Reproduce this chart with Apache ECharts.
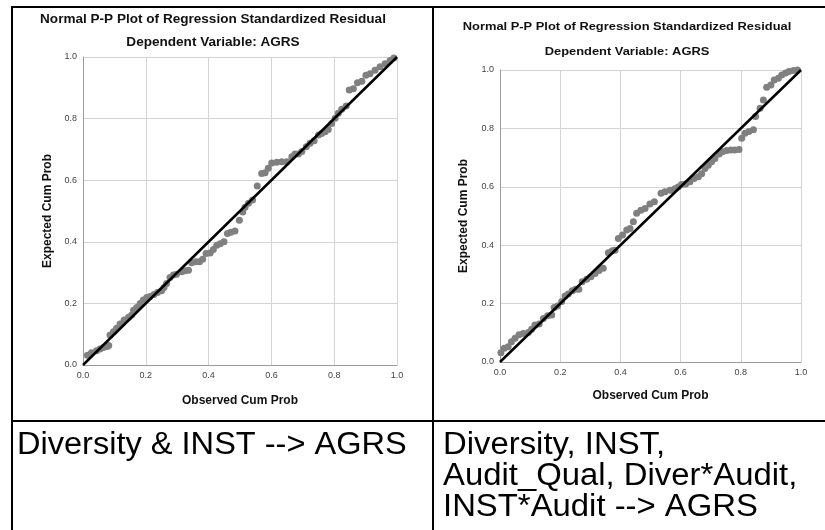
<!DOCTYPE html>
<html>
<head>
<meta charset="utf-8">
<script src="https://cdn.jsdelivr.net/npm/echarts@6/dist/echarts.min.js"></script>
<style>
  html, body { margin: 0; padding: 0; background: #fff; }
  #chart { width: 825px; height: 530px; }
</style>
</head>
<body>
<div id="chart"></div>
<script>
// left plot: Diversity & INST --> AGRS
var leftObs = [0.014, 0.027, 0.043, 0.054, 0.065, 0.077, 0.082, 0.086, 0.097, 0.107, 0.118, 0.131, 0.145, 0.155,
  0.161, 0.171, 0.182, 0.192, 0.203, 0.213, 0.226, 0.237, 0.250, 0.258, 0.266, 0.277, 0.288, 0.298, 0.314,
  0.325, 0.336, 0.346, 0.360, 0.371, 0.381, 0.392, 0.405, 0.415, 0.426, 0.437, 0.449, 0.460, 0.471, 0.484,
  0.498, 0.509, 0.516, 0.527, 0.540, 0.555, 0.569, 0.580, 0.590, 0.601, 0.617, 0.633, 0.649, 0.665, 0.675,
  0.686, 0.697, 0.711, 0.723, 0.736, 0.750, 0.760, 0.771, 0.781, 0.792, 0.803, 0.813, 0.824, 0.838, 0.848,
  0.861, 0.874, 0.888, 0.901, 0.914, 0.930, 0.946, 0.962, 0.978, 0.990];
var leftExp = [0.032, 0.040, 0.046, 0.052, 0.057, 0.060, 0.063, 0.097, 0.108, 0.119, 0.133, 0.146, 0.155, 0.162,
  0.178, 0.187, 0.200, 0.211, 0.219, 0.222, 0.229, 0.235, 0.241, 0.252, 0.265, 0.284, 0.292, 0.295, 0.303,
  0.306, 0.308, 0.332, 0.335, 0.335, 0.343, 0.362, 0.364, 0.375, 0.389, 0.394, 0.400, 0.427, 0.431, 0.435,
  0.470, 0.497, 0.512, 0.525, 0.536, 0.581, 0.622, 0.624, 0.639, 0.656, 0.658, 0.660, 0.660, 0.676, 0.685,
  0.685, 0.693, 0.709, 0.720, 0.728, 0.747, 0.752, 0.757, 0.765, 0.784, 0.801, 0.817, 0.830, 0.841, 0.893,
  0.897, 0.916, 0.921, 0.941, 0.946, 0.957, 0.968, 0.978, 0.989, 0.997];

// right plot: Diversity, INST, Audit_Qual, Diver*Audit, INST*Audit --> AGRS
var rightObs = [0.003, 0.014, 0.027, 0.038, 0.050, 0.063, 0.077, 0.094, 0.105, 0.116, 0.130, 0.144, 0.158, 0.172,
  0.180, 0.191, 0.205, 0.216, 0.227, 0.240, 0.251, 0.262, 0.273, 0.288, 0.302, 0.316, 0.329, 0.343, 0.360,
  0.373, 0.382, 0.393, 0.407, 0.421, 0.432, 0.443, 0.454, 0.468, 0.482, 0.498, 0.513, 0.535, 0.548, 0.565,
  0.581, 0.592, 0.603, 0.617, 0.631, 0.645, 0.659, 0.670, 0.681, 0.692, 0.703, 0.714, 0.728, 0.739, 0.753,
  0.767, 0.780, 0.794, 0.803, 0.814, 0.827, 0.842, 0.849, 0.864, 0.875, 0.886, 0.900, 0.911, 0.925, 0.936,
  0.949, 0.960, 0.975, 0.988];
var rightExp = [0.032, 0.047, 0.052, 0.069, 0.081, 0.093, 0.098, 0.101, 0.112, 0.127, 0.130, 0.149, 0.158, 0.161,
  0.187, 0.192, 0.207, 0.226, 0.233, 0.244, 0.249, 0.249, 0.275, 0.283, 0.292, 0.303, 0.313, 0.321, 0.374,
  0.381, 0.383, 0.423, 0.435, 0.452, 0.457, 0.480, 0.509, 0.520, 0.526, 0.541, 0.549, 0.578, 0.583, 0.588,
  0.593, 0.599, 0.608, 0.610, 0.617, 0.628, 0.634, 0.645, 0.663, 0.674, 0.686, 0.697, 0.712, 0.720, 0.724,
  0.726, 0.726, 0.728, 0.766, 0.783, 0.789, 0.795, 0.841, 0.869, 0.897, 0.941, 0.949, 0.966, 0.972, 0.983,
  0.990, 0.995, 0.998, 1.000];

var diagonal = [[0, 0], [1, 1]];
var titleMain = 'Normal P-P Plot of Regression Standardized Residual';
var titleSub = 'Dependent Variable: AGRS';
var xName = 'Observed Cum Prob';
var yName = 'Expected Cum Prob';
var leftCaption = ['Diversity & INST --> AGRS'];
var rightCaption = ['Diversity, INST,', 'Audit_Qual, Diver*Audit,', 'INST*Audit --> AGRS'];

function pairs(xs, ys) {
  return xs.map(function (x, i) { return [x, ys[i]]; });
}

function axis(idx, name, gap) {
  return {
    type: 'value', gridIndex: idx, min: 0, max: 1, interval: 0.2,
    name: name, nameLocation: 'middle', nameGap: gap,
    nameTextStyle: { fontFamily: 'Liberation Sans, Arial', fontWeight: 'bold', fontSize: 12, color: '#111' },
    axisLine: { show: true, lineStyle: { color: '#9a9a9a', width: 1 } },
    axisTick: { show: false },
    axisLabel: {
      fontFamily: 'Liberation Sans, Arial', fontSize: 9, color: '#444', margin: 6,
      formatter: function (v) { return v.toFixed(1); }
    },
    splitLine: { show: true, lineStyle: { color: '#d4d4d4', width: 1 } }
  };
}

var txtFont = 'Liberation Sans, Arial';
var graphics = [];
// table borders
[[11, 7, 825, 7], [12, 7, 12, 530], [433, 7, 433, 530], [11, 421, 825, 421]].forEach(function (l) {
  graphics.push({ type: 'line', shape: { x1: l[0], y1: l[1], x2: l[2], y2: l[3] },
    style: { stroke: '#000', lineWidth: 2 }, z: 10 });
});
// chart titles (x, y, text, font size, stretch)
[[213, 20, titleMain, 12, 1.13], [213, 43, titleSub, 12, 1.13],
 [627, 27, titleMain, 11.5, 1.12], [627, 52, titleSub, 11.5, 1.12]].forEach(function (t) {
  graphics.push({ type: 'text', x: t[0], y: t[1], scaleX: t[4], originX: 0, originY: 0,
    style: { text: t[2], font: 'bold ' + t[3] + 'px ' + txtFont, fill: '#111', textAlign: 'center', textVerticalAlign: 'middle' } });
});
// captions under the charts
leftCaption.forEach(function (s, i) {
  graphics.push({ type: 'text', x: 17, y: 445 + i * 31, scaleX: 1.05, originX: 0, originY: 0,
    style: { text: s, font: '31px ' + txtFont, fill: '#000', textAlign: 'left', textVerticalAlign: 'middle' } });
});
rightCaption.forEach(function (s, i) {
  graphics.push({ type: 'text', x: 443, y: 445 + i * 31, scaleX: 1.06, originX: 0, originY: 0,
    style: { text: s, font: '31px ' + txtFont, fill: '#000', textAlign: 'left', textVerticalAlign: 'middle' } });
});

var chart = echarts.init(document.getElementById('chart'));
var option = {
  animation: false,
  backgroundColor: '#fff',
  grid: [
    { left: 83, top: 57, width: 314, height: 308 },
    { left: 500, top: 70, width: 301, height: 292 }
  ],
  xAxis: [axis(0, xName, 30), axis(1, xName, 28)],
  yAxis: [axis(0, yName, 29), axis(1, yName, 30)],
  series: [
    { type: 'scatter', xAxisIndex: 0, yAxisIndex: 0, data: pairs(leftObs, leftExp),
      symbolSize: 7, itemStyle: { color: '#808080', opacity: 1 } },
    { type: 'line', xAxisIndex: 0, yAxisIndex: 0, data: diagonal, showSymbol: false,
      lineStyle: { color: '#000', width: 2.5 }, z: 3 },
    { type: 'scatter', xAxisIndex: 1, yAxisIndex: 1, data: pairs(rightObs, rightExp),
      symbolSize: 7, itemStyle: { color: '#808080', opacity: 1 } },
    { type: 'line', xAxisIndex: 1, yAxisIndex: 1, data: diagonal, showSymbol: false,
      lineStyle: { color: '#000', width: 2.5 }, z: 3 }
  ],
  graphic: graphics
};
chart.setOption(option);
</script>
</body>
</html>
